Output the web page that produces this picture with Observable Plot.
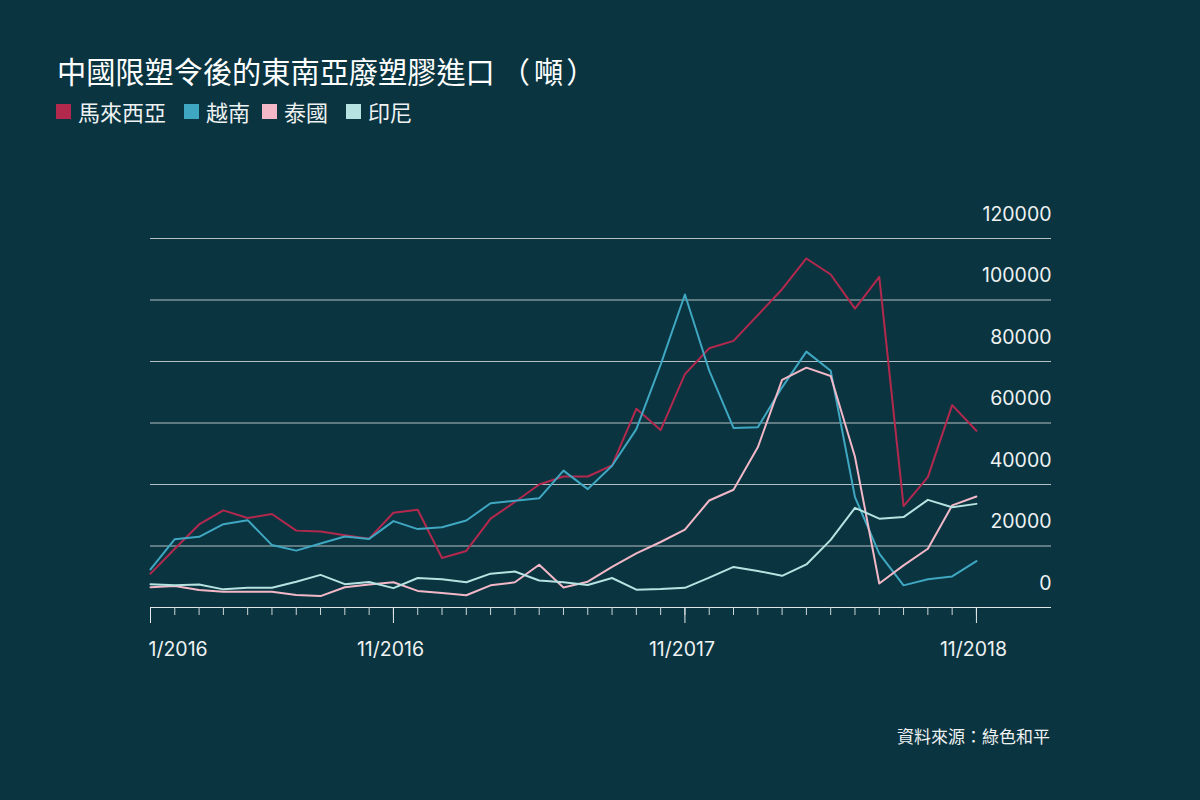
<!DOCTYPE html>
<html>
<head>
<meta charset="utf-8">
<script src="https://cdn.jsdelivr.net/npm/d3@7"></script>
<script src="https://cdn.jsdelivr.net/npm/@observablehq/plot@0.6"></script>
<style>
  html, body { margin: 0; padding: 0; background: #0a3440; }
  #wrap { position: relative; width: 1200px; height: 800px; background: #0a3440; overflow: hidden;
          font-family: Inter, "Noto Sans CJK TC", sans-serif; color: #ffffff; }
  #chart { position: absolute; left: 0; top: 0; }
  #title { position: absolute; left: 57px; top: 54px; font-family: "Noto Sans CJK TC", sans-serif; font-size: 29.2px; line-height: 32px; color: #ffffff; white-space: nowrap; }
  #title .pl { margin-left: 6px; margin-right: 4px; }
  #title .pr { margin-left: 3px; }
  .item { position: absolute; top: 99px; display: flex; align-items: center; font-family: "Noto Sans CJK TC", sans-serif; font-size: 22px; line-height: 24px; color: #eef2f2; white-space: nowrap; }
  .sw { width: 15px; height: 15px; margin-right: 7px; display: inline-block; }
  #source { position: absolute; right: 150px; top: 724px; font-family: "Noto Sans CJK TC", sans-serif; font-size: 17px; line-height: 24px; color: #eef2f2; white-space: nowrap; }
</style>
</head>
<body>
<div id="wrap">
  <div id="chart"></div>
  <div id="title">中國限塑令後的東南亞廢塑膠進口<span class="pl">（</span>噸<span class="pr">）</span></div>
  <div id="source">資料來源：綠色和平</div>
</div>
<script>
// Series names and colours
const seriesNames = ["馬來西亞", "越南", "泰國", "印尼"];
const seriesColors = ["#b3294e", "#3fa7c1", "#f3b8c7", "#b6e3e1"];

// Monthly values, 1/2016 .. 11/2018 (tonnes)
const malaysia  = [11000,19100,27000,31600,29100,30400,25000,24700,23500,22400,30800,31800,16100,18400,28900,34300,40000,42600,42600,46200,64600,57700,75900,84300,86700,95100,103500,113500,108300,97200,107500,33000,42400,65800,57500];
const vietnam   = [12400,22200,23000,27100,28400,20300,18500,20800,23100,22300,28100,25500,26100,28300,33900,34700,35500,44500,38500,46100,58000,79000,101800,77000,58400,58600,71600,83200,77000,35900,17500,7200,9200,10100,15100];
const thailand  = [6600,7000,5700,5100,5100,5100,4100,3700,6600,7500,8200,5400,4700,4000,7200,8200,13900,6500,8400,13200,17600,21300,25300,34800,38300,52100,74000,78000,75300,49000,7800,13700,19100,33200,36100];
const indonesia = [7600,7200,7500,5900,6400,6400,8400,10600,7600,8300,6300,9600,9200,8200,11000,11700,8800,8200,7300,9600,5800,6000,6400,9700,13200,11900,10300,14000,22000,32400,28900,29400,35000,32600,33700];

// Axis ticks
const yTicks = [0, 20000, 40000, 60000, 80000, 100000, 120000];
const monthIndex = d3.range(35);            // one tick per month
const majorTicks = [0, 10, 22, 34];
const majorLabels = ["1/2016", "11/2016", "11/2017", "11/2018"];
const xMax = 37.09;                         // axis runs a little past the last month

const seriesValues = [malaysia, vietnam, thailand, indonesia];
const data = seriesNames.flatMap((s, k) => seriesValues[k].map((v, i) => ({ s, i, v })));

// Legend
const legendLefts = [56, 184, 262, 346];
const wrap = document.getElementById("wrap");
seriesNames.forEach((s, k) => {
  const it = document.createElement("div");
  it.className = "item";
  it.style.left = legendLefts[k] + "px";
  it.innerHTML = `<span class="sw" style="background:${seriesColors[k]}"></span><span>${s}</span>`;
  wrap.appendChild(it);
});

const textColor = "#eef2f2";
const chart = Plot.plot({
  width: 1200,
  height: 800,
  marginLeft: 150,
  marginRight: 149,
  marginTop: 238,
  marginBottom: 193,
  style: { background: "transparent", fontFamily: "Inter, 'Noto Sans CJK TC', sans-serif", overflow: "visible" },
  x: { domain: [0, xMax], axis: null, label: null },
  y: { domain: [0, 120000], axis: null, label: null },
  color: { domain: seriesNames, range: seriesColors },
  marks: [
    Plot.ruleY(yTicks.slice(1), { stroke: "#b4c0c3", strokeWidth: 1 }),
    Plot.text(yTicks, { x: xMax, y: d => d, dy: -24, textAnchor: "end", text: d => String(d), fill: textColor, fontSize: 19.5 }),
    Plot.line(data, { x: "i", y: "v", z: "s", stroke: "s", strokeWidth: 2, curve: "linear" }),
    Plot.ruleY([0], { stroke: "#dfe6e7", strokeWidth: 1 }),
    Plot.axisX(monthIndex, { anchor: "bottom", tickSize: 8, tickFormat: () => "", label: null, stroke: "#cdd5d7" }),
    Plot.axisX(majorTicks, { anchor: "bottom", tickSize: 16, tickFormat: () => "", label: null, stroke: "#e4eaeb" }),
    Plot.text([majorTicks[0]], { x: d => d, frameAnchor: "bottom", dy: 48, dx: -2, textAnchor: "start", text: () => majorLabels[0], fill: textColor, fontSize: 19.5 }),
    Plot.text(majorTicks.slice(1), { x: d => d, frameAnchor: "bottom", dy: 48, dx: -3, textAnchor: "middle", text: (d, i) => majorLabels[i + 1], fill: textColor, fontSize: 19.5 })
  ]
});
document.getElementById("chart").appendChild(chart);
</script>
</body>
</html>
